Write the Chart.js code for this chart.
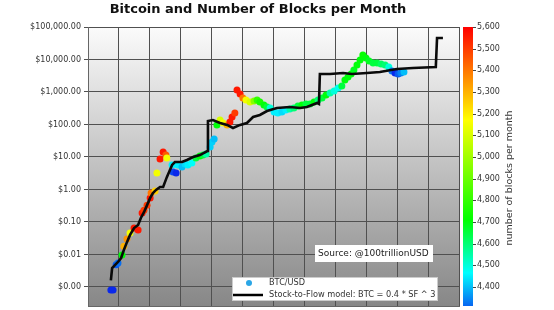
<!DOCTYPE html>
<html>
<head>
<meta charset="utf-8">
<script src="https://cdn.jsdelivr.net/npm/chart.js@4.4.1/dist/chart.umd.min.js"></script>
<style>
  html, body { margin: 0; padding: 0; background: #fff; }
  #wrap { width: 554px; height: 310px; }
</style>
</head>
<body>
<div id="wrap"><canvas id="chart" width="554" height="310"></canvas></div>
<script>
// BTC/USD monthly averages: date (decimal year), price, blocks mined that month
const btcYears = [
  2009.74, 2009.81, 2009.91, 2009.97, 2010.10, 2010.16, 2010.26, 2010.36, 2010.49, 2010.62,
  2010.75, 2010.81, 2010.91, 2011.01, 2011.04, 2011.17, 2011.23, 2011.33, 2011.43, 2011.52,
  2011.55, 2011.72, 2011.75, 2011.85, 2011.91, 2012.04, 2012.14, 2012.23, 2012.36, 2012.49,
  2012.62, 2012.72, 2012.82, 2012.95, 2013.01, 2013.08, 2013.17, 2013.27, 2013.37, 2013.50,
  2013.59, 2013.66, 2013.75, 2013.82, 2013.92, 2014.01, 2014.11, 2014.24, 2014.37, 2014.47,
  2014.56, 2014.69, 2014.79, 2014.89, 2015.02, 2015.14, 2015.27, 2015.40, 2015.53, 2015.66,
  2015.79, 2015.92, 2016.05, 2016.18, 2016.31, 2016.44, 2016.57, 2016.70, 2016.83, 2016.96,
  2017.09, 2017.21, 2017.31, 2017.41, 2017.51, 2017.60, 2017.70, 2017.80, 2017.89, 2017.99,
  2018.09, 2018.22, 2018.35, 2018.48, 2018.61, 2018.73, 2018.83, 2018.93, 2019.03, 2019.12,
  2019.22
];
const btcPrices = [
  0.00081, 0.00081, 0.0048, 0.0055, 0.0097, 0.018, 0.030, 0.046, 0.065, 0.057,
  0.19, 0.23, 0.33, 0.55, 0.78, 0.90, 3.2, 8.7, 14.3, 11.5,
  9.3, 5.7, 3.45, 3.2, 5.7, 4.9, 6.1, 5.7, 6.5, 9.3,
  10.7, 11.5, 12.4, 20.3, 29, 36, 97, 137, 111, 97,
  119, 170, 226, 1150, 870, 650, 570, 490, 530, 570,
  490, 400, 345, 322, 243, 226, 243, 279, 300, 322,
  370, 400, 428, 428, 490, 570, 650, 810, 930, 1070,
  1330, 1530, 2340, 2900, 3580, 4750, 6780, 9660, 13750, 11100,
  9000, 7800, 7800, 7280, 6780, 5880, 4430, 3840, 3580, 3840,
  4120
];
const btcBlocks = [
  4250, 4250, 4300, 4320, 4700, 5300, 5350, 5150, 5560, 5560,
  5560, 5500, 5500, 5560, 5400, 5250, 5150, 5560, 5560, 5450,
  5150, 4450, 4280, 4250, 4450, 4400, 4430, 4450, 4470, 4650,
  4700, 4650, 4550, 4420, 4420, 4400, 4700, 5100, 5150, 5300,
  5560, 5560, 5500, 5560, 5560, 5400, 5150, 5100, 4950, 4800,
  4750, 4700, 4650, 4500, 4450, 4450, 4430, 4450, 4550, 4600,
  4650, 4700, 4650, 4650, 4700, 4600, 4650, 4700, 4550, 4500,
  4480, 4650, 4700, 4700, 4700, 4680, 4700, 4700, 4720, 4700,
  4680, 4650, 4650, 4620, 4600, 4500, 4330, 4250, 4300, 4340,
  4400
];

// Stock-to-Flow model: BTC = 0.4 * SF ^ 3
const s2fYears = [
  2009.74, 2009.78, 2009.84, 2009.97, 2010.07, 2010.16, 2010.26, 2010.36, 2010.49, 2010.62,
  2010.71, 2010.81, 2010.91, 2011.01, 2011.10, 2011.20, 2011.33, 2011.43, 2011.55, 2011.72,
  2011.81, 2012.04, 2012.20, 2012.40, 2012.62, 2012.86, 2012.88, 2013.04, 2013.27, 2013.50,
  2013.69, 2013.92, 2014.14, 2014.34, 2014.56, 2014.79, 2015.11, 2015.53, 2015.86, 2016.08,
  2016.41, 2016.47, 2016.50, 2016.83, 2017.25, 2017.54, 2018.02, 2018.44, 2018.99, 2019.51,
  2020.25, 2020.29, 2020.48
];
const s2fPrices = [
  0.0016, 0.0038, 0.0044, 0.0059, 0.0078, 0.0137, 0.024, 0.040, 0.065, 0.081,
  0.133, 0.20, 0.33, 0.55, 0.78, 0.97, 1.19, 1.19, 2.4, 5.7,
  7.0, 7.0, 8.1, 10, 11.5, 15.3, 128, 137, 111, 97,
  78, 97, 111, 170, 196, 260, 322, 345, 322, 345,
  459, 428, 3580, 3580, 3840, 3580, 3840, 4120, 5100, 5470,
  5880, 45900, 45900
];

const yTickValues = [0.001, 0.01, 0.1, 1, 10, 100, 1000, 10000, 100000];
const yTickLabels = ['$0.00', '$0.01', '$0.10', '$1.00', '$10.00', '$100.00',
  '$1,000.00', '$10,000.00', '$100,000.00'];
const blockTicks = [4400, 4500, 4600, 4700, 4800, 4900, 5000, 5100, 5200, 5300, 5400, 5500, 5600];

// colour map for blocks per month (blue -> cyan -> green -> yellow -> orange -> red)
const cmap = [
  [4250, [10, 40, 235]],
  [4465, [0, 255, 255]],
  [4710, [0, 255, 0]],
  [5170, [255, 255, 0]],
  [5330, [255, 160, 0]],
  [5600, [255, 0, 0]]
];
function blockColor(v) {
  const rgb = c => 'rgb(' + c.map(Math.round).join(',') + ')';
  if (v <= cmap[0][0]) return rgb(cmap[0][1]);
  for (let i = 1; i < cmap.length; i++) {
    if (v <= cmap[i][0]) {
      const t = (v - cmap[i - 1][0]) / (cmap[i][0] - cmap[i - 1][0]);
      const a = cmap[i - 1][1], b = cmap[i][1];
      return rgb([0, 1, 2].map(k => a[k] + (b[k] - a[k]) * t));
    }
  }
  return rgb(cmap[cmap.length - 1][1]);
}

const decor = {
  id: 'decor',
  beforeDraw(chart) {
    const {ctx, chartArea: a} = chart;
    const g = ctx.createLinearGradient(0, a.top, 0, a.bottom);
    g.addColorStop(0, '#fbfbfb');
    g.addColorStop(1, '#878787');
    ctx.save();
    ctx.fillStyle = g;
    ctx.fillRect(a.left, a.top, a.right - a.left, a.bottom - a.top);
    ctx.restore();
  },
  afterDraw(chart) {
    const {ctx, chartArea: a, scales} = chart;
    const cb = scales.y2;
    ctx.save();

    // colour bar
    const x0 = a.right + 4, w = 10;
    const top = cb.getPixelForValue(cb.max), bot = cb.getPixelForValue(cb.min);
    const g = ctx.createLinearGradient(0, bot, 0, top);
    g.addColorStop(0, blockColor(cb.min));
    cmap.forEach(([v]) => {
      const t = (v - cb.min) / (cb.max - cb.min);
      if (t > 0 && t <= 1) g.addColorStop(t, blockColor(v));
    });
    ctx.fillStyle = g;
    ctx.fillRect(x0, top, w, bot - top);
    ctx.strokeStyle = '#444';
    ctx.lineWidth = 1;
    cb.ticks.forEach(t => {
      const y = Math.round(cb.getPixelForValue(t.value)) + 0.5;
      ctx.beginPath();
      ctx.moveTo(x0 + w, y);
      ctx.lineTo(x0 + w + 3, y);
      ctx.stroke();
    });

    // colour bar title
    ctx.fillStyle = '#333';
    ctx.font = '9.5px "DejaVu Sans"';
    ctx.textAlign = 'center';
    ctx.textBaseline = 'middle';
    ctx.translate(510, 178);
    ctx.rotate(-Math.PI / 2);
    ctx.fillText('number of blocks per month', 0, 0);
    ctx.setTransform(1, 0, 0, 1, 0, 0);

    // chart title
    ctx.fillStyle = '#111';
    ctx.font = 'bold 13px "DejaVu Sans"';
    ctx.fillText('Bitcoin and Number of Blocks per Month', 258, 10);

    // source box
    ctx.fillStyle = '#fff';
    ctx.fillRect(315, 245, 118, 17);
    ctx.fillStyle = '#222';
    ctx.font = '9px "DejaVu Sans"';
    ctx.textAlign = 'left';
    ctx.fillText('Source: @100trillionUSD', 318, 254);

    // legend
    const ds = chart.data.datasets;
    ctx.fillStyle = '#fff';
    ctx.strokeStyle = '#ccc';
    ctx.fillRect(232, 277, 206, 24);
    ctx.strokeRect(232.5, 277.5, 205, 23);
    ctx.fillStyle = '#2ba6e6';
    ctx.beginPath();
    ctx.arc(249, 283, 3, 0, Math.PI * 2);
    ctx.fill();
    ctx.strokeStyle = '#000';
    ctx.lineWidth = 2.5;
    ctx.beginPath();
    ctx.moveTo(233, 295);
    ctx.lineTo(263, 295);
    ctx.stroke();
    ctx.fillStyle = '#333';
    ctx.font = '8.2px "DejaVu Sans"';
    ctx.fillText(ds[0].label, 269, 283);
    ctx.fillText(ds[1].label, 269, 295);

    ctx.restore();
  }
};

Chart.defaults.font.family = '"DejaVu Sans"';

new Chart(document.getElementById('chart').getContext('2d'), {
  type: 'scatter',
  data: {
    datasets: [
      {
        label: 'BTC/USD',
        data: btcYears.map((x, i) => ({x, y: btcPrices[i]})),
        backgroundColor: btcBlocks.map(blockColor),
        pointRadius: 3.5,
        borderWidth: 0,
        order: 1
      },
      {
        label: 'Stock-to-Flow model: BTC = 0.4 * SF ^ 3',
        data: s2fYears.map((x, i) => ({x, y: s2fPrices[i]})),
        showLine: true,
        borderColor: '#0a0a0a',
        borderWidth: 2.6,
        pointRadius: 0,
        tension: 0,
        order: 0
      }
    ]
  },
  options: {
    responsive: false,
    animation: false,
    layout: { padding: { top: 27, right: 0, bottom: 4, left: 0 } },
    plugins: {
      legend: { display: false },
      tooltip: { enabled: false },
      title: { display: false }
    },
    scales: {
      x: {
        type: 'linear',
        min: 2009,
        max: 2021,
        ticks: { display: false, stepSize: 1 },
        grid: { color: '#505050', drawTicks: false },
        border: { color: '#666' }
      },
      y: {
        type: 'logarithmic',
        position: 'left',
        min: 0.00026,
        max: 100000,
        afterBuildTicks: s => { s.ticks = yTickValues.map(v => ({value: v})); },
        afterFit: s => { s.width = 88; s.paddingTop = 0; s.paddingBottom = 0; },
        ticks: {
          color: '#333',
          font: { size: 8 },
          padding: 3,
          callback: v => yTickLabels[yTickValues.indexOf(v)]
        },
        grid: { color: '#505050', tickLength: 4 },
        border: { color: '#666' }
      },
      y2: {
        type: 'linear',
        position: 'right',
        min: 4312,
        max: 5600,
        afterBuildTicks: s => { s.ticks = blockTicks.map(v => ({value: v})); },
        afterFit: s => { s.width = 95; s.paddingTop = 0; s.paddingBottom = 0; },
        ticks: {
          color: '#333',
          font: { size: 8 },
          padding: 18,
          callback: v => v.toLocaleString('en-US')
        },
        grid: { display: false, drawTicks: false },
        border: { display: false }
      }
    }
  },
  plugins: [decor]
});
</script>
</body>
</html>
